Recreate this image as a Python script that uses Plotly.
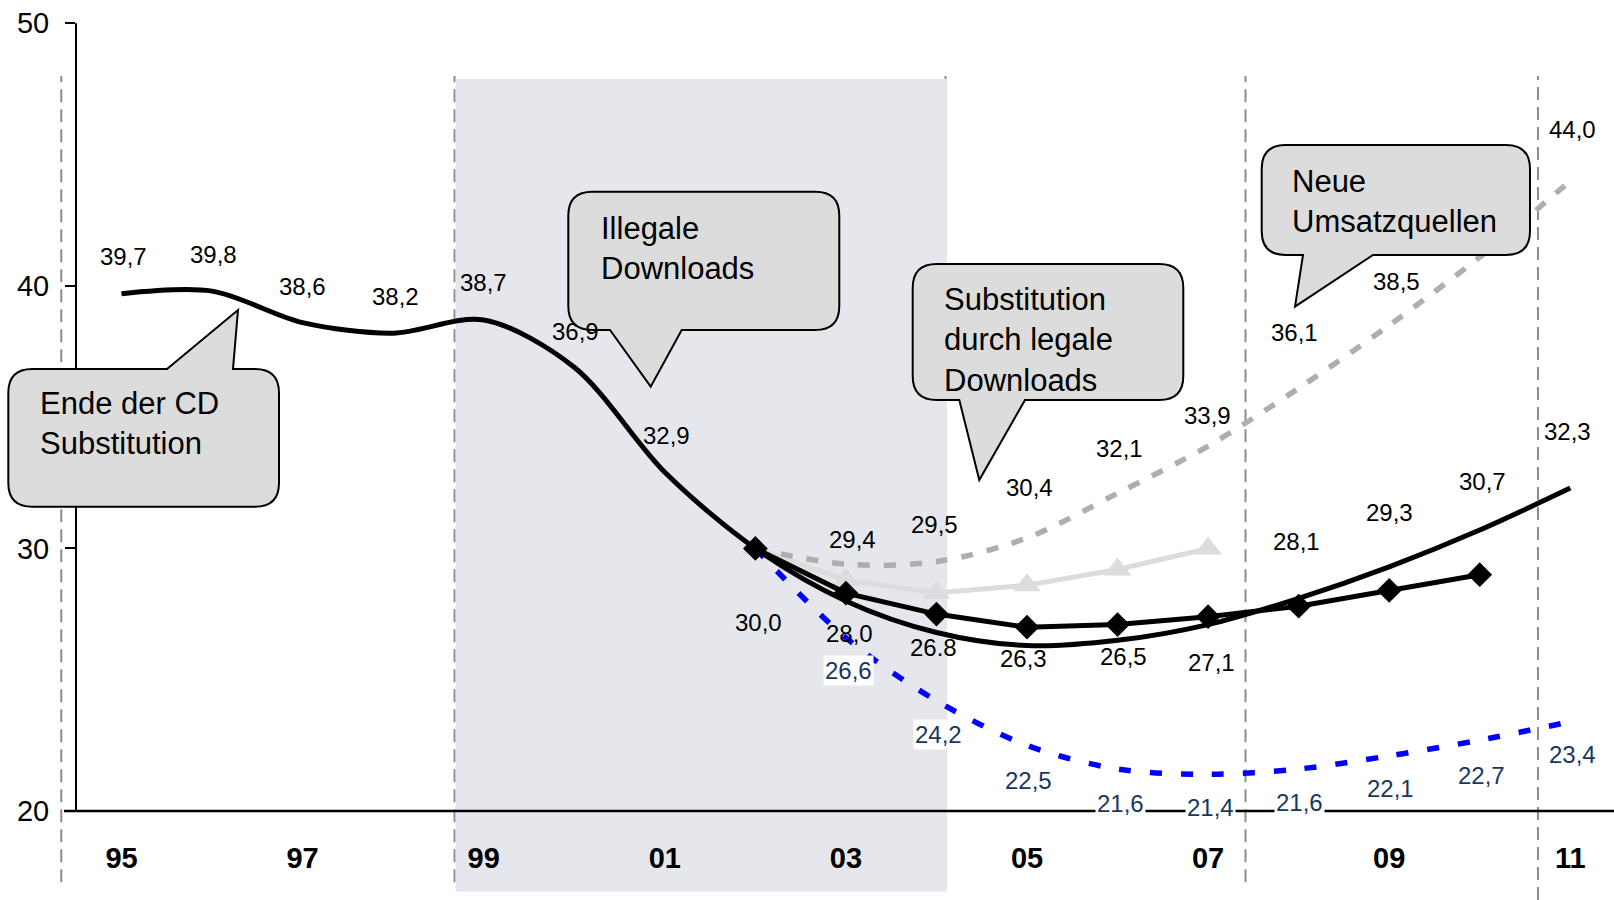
import plotly.graph_objects as go

# ---- data -------------------------------------------------------------
years_hist = [1995, 1996, 1997, 1998, 1999, 2000, 2001, 2002]
umsatz_hist = [39.7, 39.8, 38.6, 38.2, 38.7, 36.9, 32.9, 30.0]

years_fc = [2002, 2003, 2004, 2005, 2006, 2007, 2008, 2009, 2010, 2011]
basis_fc = [30.0, 28.0, 26.8, 26.3, 26.5, 27.1, 28.1, 29.3, 30.7, 32.3]
hoch_fc = [30.0, 29.4, 29.5, 30.4, 32.1, 33.9, 36.1, 38.5, 41.1, 44.0]
tief_fc = [30.0, 26.6, 24.2, 22.5, 21.6, 21.4, 21.6, 22.1, 22.7, 23.4]

years_alt = [2002, 2003, 2004, 2005, 2006, 2007, 2008, 2009, 2010]
alt_fc = [30.0, 28.3, 27.5, 27.0, 27.1, 27.4, 27.8, 28.4, 29.0]

years_tri = [2002, 2003, 2004, 2005, 2006, 2007]
tri_fc = [30.0, 28.8, 28.3, 28.6, 29.2, 30.0]

tick_years = [1995, 1997, 1999, 2001, 2003, 2005, 2007, 2009, 2011]
tick_text = ["95", "97", "99", "01", "03", "05", "07", "09", "11"]
y_ticks = [20, 30, 40, 50]

callout_texts = [
    "Ende der CD<br>Substitution",
    "Illegale<br>Downloads",
    "Substitution<br>durch legale<br>Downloads",
    "Neue<br>Umsatzquellen",
]

# ---- layout geometry ----------------------------------------------------
W, H = 1614, 900
ML = 76
PW = W - ML
PX_PER_YEAR = 90.55
X0 = 1994.4975
X1 = X0 + PW / PX_PER_YEAR
Y0, Y1 = 16.611, 50.887

FONT = "Liberation Sans, Arial, Helvetica, sans-serif"
NAVY = "#17375E"


def fx(px):
    return (px - ML) / PW


def fy(py):
    return 1 - py / H


def year_to_paper(yr):
    return (yr - X0) / (X1 - X0)


def fmt(v):
    return f"{v:.1f}".replace(".", ",")


fig = go.Figure()

# light grey scenario with triangles
fig.add_trace(go.Scatter(
    x=years_tri, y=tri_fc, mode="lines+markers",
    line=dict(color="#DCDCDC", width=5),
    marker=dict(symbol="triangle-up", size=24, color="#DCDCDC"),
))
# optimistic scenario (grey dashed)
fig.add_trace(go.Scatter(
    x=years_fc, y=hoch_fc, mode="lines",
    line=dict(color="#AEAEAE", width=5.5, dash="12px,14px", shape="spline", smoothing=0.9),
))
# pessimistic scenario (blue dashed)
fig.add_trace(go.Scatter(
    x=years_fc, y=tief_fc, mode="lines",
    line=dict(color="#0000FF", width=5.5, dash="12px,19px", shape="spline", smoothing=0.9),
))
# history + base scenario
main_years = years_hist + years_fc[1:]
main_vals = umsatz_hist + basis_fc[1:]
fig.add_trace(go.Scatter(
    x=main_years, y=main_vals, mode="lines",
    line=dict(color="black", width=5, shape="spline", smoothing=0.9),
))
# alternative scenario with diamonds
fig.add_trace(go.Scatter(
    x=years_alt, y=alt_fc, mode="lines+markers",
    line=dict(color="black", width=5),
    marker=dict(symbol="diamond", size=19, color="black"),
))

# ---- value labels -------------------------------------------------------
main_text = [fmt(v) for v in main_vals]
main_text[main_years.index(2004)] = f"{basis_fc[years_fc.index(2004)]:.1f}"
main_shift = [(2, 37), (1, 37), (0, 36), (2, 37), (0, 38), (1, 36), (2, 37), (3, -74),
              (4, -33), (-3, -15), (-4, -13), (6, -16), (3, -38), (-2, 57), (0, 54),
              (3, 49), (-3, 57)]
for yr, v, t, (dx, dy) in zip(main_years, main_vals, main_text, main_shift):
    fig.add_annotation(x=yr, y=v, text=t, showarrow=False, xshift=dx, yshift=dy,
                       font=dict(family=FONT, size=24, color="black"))

hoch_shift = [(7, 25), (-2, 37), (2, 50), (2, 45), (-1, 31), (-4, 56), (7, 44), None, (2, 51)]
for yr, v, s in zip(years_fc[1:], hoch_fc[1:], hoch_shift):
    if s is None:
        continue
    fig.add_annotation(x=yr, y=v, text=fmt(v), showarrow=False, xshift=s[0], yshift=s[1],
                       font=dict(family=FONT, size=24, color="black"))

tief_shift = [(3, -33), (2, -34), (1, -35), (3, -34), (2, -33), (1, -33), (1, -33), (2, -35), (2, -33)]
for yr, v, (dx, dy) in zip(years_fc[1:], tief_fc[1:], tief_shift):
    fig.add_annotation(x=yr, y=v, text=fmt(v), showarrow=False, xshift=dx, yshift=dy,
                       bgcolor="white", borderpad=1,
                       font=dict(family=FONT, size=24, color=NAVY))

# ---- background decorations ---------------------------------------------
shapes = []
# shaded period
shapes.append(dict(type="rect", xref="x", yref="y", x0=1998.691, x1=2004.117,
                   y0=16.927, y1=47.878, fillcolor="#E6E7EC", line=dict(width=0),
                   layer="below"))
# period separators
sep_years = [1994.335, 1998.678, 2004.10, 2007.413, 2010.643]
sep_bottom = [17.29, 17.29, 17.29, 17.29, Y0]
for sx, sb in zip(sep_years, sep_bottom):
    xp = year_to_paper(sx)
    shapes.append(dict(type="line", xref="paper", yref="y", x0=xp, x1=xp, y0=sb, y1=47.99,
                       line=dict(color="#8C8C8C", width=2, dash="13px,7px"), layer="below"))
# axis lines
shapes.append(dict(type="line", xref="paper", yref="y", x0=0, x1=0, y0=20, y1=50,
                   line=dict(color="black", width=2)))
shapes.append(dict(type="line", xref="paper", yref="y", x0=fx(64), x1=1, y0=20, y1=20,
                   line=dict(color="black", width=2.5)))


# ---- speech bubbles -----------------------------------------------------
def bubble_path(box, base, apex, r=24):
    x0, y0, x1, y1 = box
    bx0, bx1 = base
    ax, ay = apex

    def P(x, y):
        return f"{fx(x):.5f},{fy(y):.5f}"

    d = [f"M{P(x0 + r, y0)}"]
    if ay < y0:
        d += [f"L{P(bx0, y0)}", f"L{P(ax, ay)}", f"L{P(bx1, y0)}"]
    d += [f"L{P(x1 - r, y0)}", f"Q{P(x1, y0)} {P(x1, y0 + r)}",
          f"L{P(x1, y1 - r)}", f"Q{P(x1, y1)} {P(x1 - r, y1)}"]
    if ay > y1:
        d += [f"L{P(bx1, y1)}", f"L{P(ax, ay)}", f"L{P(bx0, y1)}"]
    d += [f"L{P(x0 + r, y1)}", f"Q{P(x0, y1)} {P(x0, y1 - r)}",
          f"L{P(x0, y0 + r)}", f"Q{P(x0, y0)} {P(x0 + r, y0)}", "Z"]
    return " ".join(d)


bubbles = [
    # box (l, t, r, b), tail base (x0, x1), tail apex, text left, text middle
    ((8.3, 369, 279, 506.7), (167, 233), (238, 310), 38, 423),
    ((568.3, 191.7, 839.3, 330), (610, 681.7), (650.7, 386.7), 599, 248),
    ((912.7, 264, 1183.3, 400), (959.3, 1025), (979.3, 480), 941.5, 339.5),
    ((1261.7, 145, 1530, 255), (1303, 1373), (1295, 306.7), 1290, 201.5),
]
for (box, base, apex, tx, ty), txt in zip(bubbles, callout_texts):
    shapes.append(dict(type="path", xref="paper", yref="paper",
                       path=bubble_path(box, base, apex),
                       fillcolor="#DCDCDC", line=dict(color="black", width=2),
                       layer="above"))
    fig.add_annotation(xref="paper", yref="paper", x=fx(tx), y=fy(ty), text=txt,
                       showarrow=False, xanchor="left", yanchor="middle", align="left",
                       font=dict(family=FONT, size=31, color="black"))

fig.update_layout(
    width=W, height=H,
    margin=dict(l=ML, r=0, t=0, b=0),
    paper_bgcolor="white", plot_bgcolor="white",
    showlegend=False, hovermode=False,
    shapes=shapes,
    xaxis=dict(range=[X0, X1], showgrid=False, zeroline=False, showline=False,
               tickmode="array", tickvals=tick_years, ticktext=tick_text, ticks="",
               anchor="free", position=(20 - Y0) / (Y1 - Y0), ticklabelstandoff=27,
               tickfont=dict(family=FONT, size=29, color="black", weight="bold"),
               fixedrange=True),
    yaxis=dict(range=[Y0, Y1], showgrid=False, zeroline=False, showline=False,
               tickmode="array", tickvals=y_ticks, ticks="outside", ticklen=10,
               tickwidth=2, tickcolor="black", ticklabelstandoff=10,
               tickfont=dict(family=FONT, size=29, color="black"),
               fixedrange=True),
)

fig.write_html("out.html", config=dict(displayModeBar=False))
